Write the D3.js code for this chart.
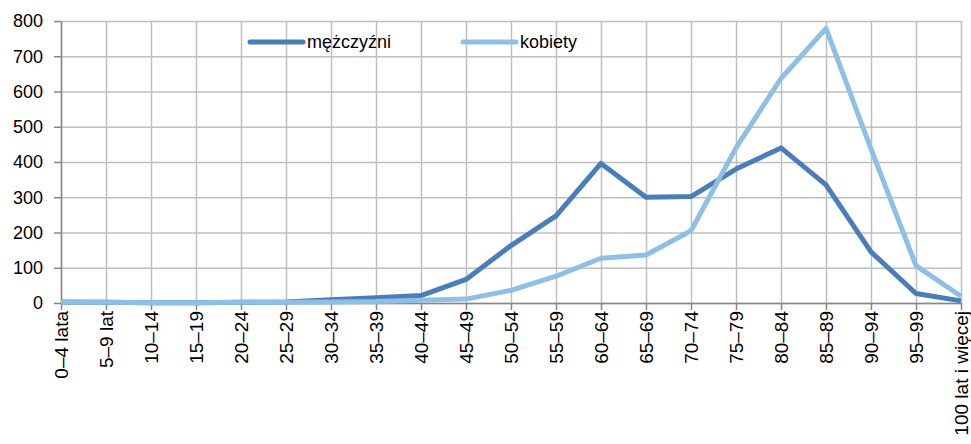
<!DOCTYPE html>
<html>
<head>
<meta charset="utf-8">
<script src="https://d3js.org/d3.v7.min.js"></script>
<style>
  body { margin: 0; background: #fff; }
  svg { font-family: "Liberation Sans", Arial, sans-serif; }
</style>
</head>
<body>
<svg width="971" height="444"></svg>
<script>
// age groups on the x axis
var ageGroups = ["0–4 lata", "5–9 lat", "10–14", "15–19", "20–24", "25–29", "30–34",
  "35–39", "40–44", "45–49", "50–54", "55–59", "60–64", "65–69", "70–74", "75–79",
  "80–84", "85–89", "90–94", "95–99", "100 lat i więcej"];

var men   = [3, 2, 1, 1, 2, 3, 9, 15, 21, 67, 163, 247, 396, 300, 302, 380, 440, 335, 145, 27, 6];
var women = [3, 2, 1, 1, 2, 2, 3, 4, 8, 11, 36, 76, 127, 136, 205, 440, 637, 779, 437, 106, 19];

var yTicks = [0, 100, 200, 300, 400, 500, 600, 700, 800];

var seriesNames = ["mężczyźni", "kobiety"];
var seriesColors = ["#4A7EBB", "#8EC0E6"];

var drawChart = function() {
  let svg = d3.select("svg");

  let margin = {
    top:    21,
    right:  10,
    bottom: 141, // room for rotated labels
    left:   61
  };
  let plotWidth = 961 - margin.left;
  let plotHeight = 444 - margin.top - margin.bottom;

  let x = d3.scalePoint()
    .domain(ageGroups)
    .range([0, plotWidth]);

  let y = d3.scaleLinear()
    .domain([0, 800])
    .range([plotHeight, 0]);

  let plot = svg.append("g")
    .attr("transform", "translate(" + margin.left + "," + margin.top + ")");

  // gridlines
  plot.append("g")
    .call(d3.axisLeft(y).tickValues(yTicks).tickFormat("").tickSize(-plotWidth))
    .call(g => g.select(".domain").remove())
    .selectAll("line").attr("stroke", "#BFBFBF").attr("stroke-width", 1.5);

  plot.append("g")
    .attr("transform", "translate(0," + plotHeight + ")")
    .call(d3.axisBottom(x).tickFormat("").tickSize(-plotHeight))
    .call(g => g.select(".domain").remove())
    .selectAll("line").attr("stroke", "#BFBFBF").attr("stroke-width", 1.5);

  // y axis
  let yAxis = plot.append("g")
    .call(d3.axisLeft(y).tickValues(yTicks).tickSize(7).tickSizeOuter(0).tickPadding(11));
  yAxis.select(".domain").attr("stroke", "#868686").attr("stroke-width", 1.5);
  yAxis.selectAll("line").attr("stroke", "#868686").attr("stroke-width", 1.5);
  yAxis.selectAll("text")
    .style("font-size", "18px")
    .attr("fill", "#000");

  // x axis
  let xAxis = plot.append("g")
    .attr("transform", "translate(0," + plotHeight + ")")
    .call(d3.axisBottom(x).tickSize(7).tickSizeOuter(0));
  xAxis.select(".domain").attr("stroke", "#868686").attr("stroke-width", 1.5);
  xAxis.selectAll("line").attr("stroke", "#868686").attr("stroke-width", 1.5);
  xAxis.selectAll("text")
    .style("font-size", "19px")
    .attr("fill", "#000")
    .attr("transform", "rotate(-90)")
    .attr("x", -8)
    .attr("y", 0)
    .attr("dy", "0.35em")
    .style("text-anchor", "end");

  // lines
  let line = d3.line()
    .x(function(d, i) { return x(ageGroups[i]); })
    .y(function(d) { return y(d); });

  [men, women].forEach(function(values, i) {
    plot.append("path")
      .datum(values)
      .attr("fill", "none")
      .attr("stroke", seriesColors[i])
      .attr("stroke-width", 5)
      .attr("stroke-linejoin", "round")
      .attr("d", line);
  });

  // legend
  let legendX = [250, 463];
  seriesNames.forEach(function(name, i) {
    let g = svg.append("g").attr("transform", "translate(" + legendX[i] + ",42)");
    g.append("line")
      .attr("x1", 0).attr("x2", 53)
      .attr("stroke", seriesColors[i])
      .attr("stroke-width", 5)
      .attr("stroke-linecap", "round");
    g.append("text")
      .attr("x", 57)
      .attr("dy", "0.35em")
      .style("font-size", "18px")
      .text(name);
  });
};

drawChart();
</script>
</body>
</html>
